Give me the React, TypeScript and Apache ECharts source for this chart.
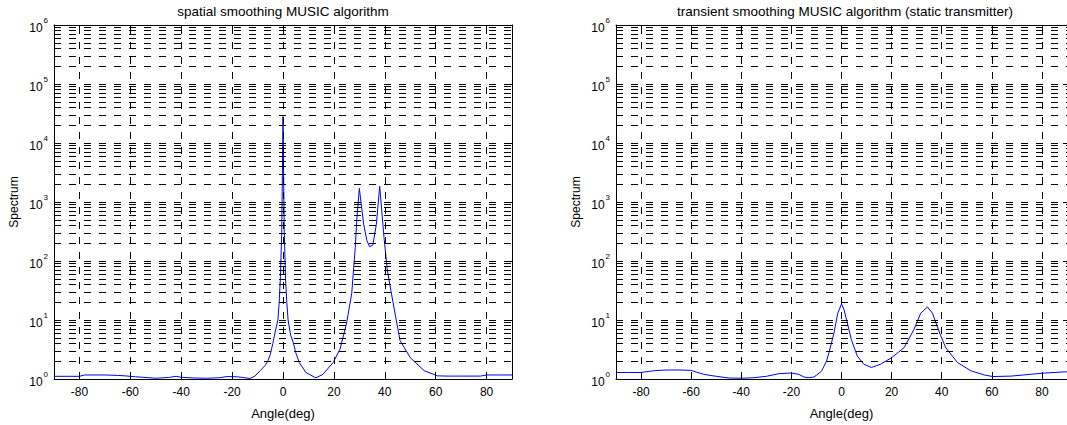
import React, { useEffect, useRef } from "react";
import * as echarts from "echarts";

const FONT = '"Liberation Sans", Arial, Helvetica, sans-serif';

const titles = [
  "spatial smoothing MUSIC algorithm",
  "transient smoothing MUSIC algorithm (static transmitter)",
];
const xAxisName = "Angle(deg)";
const yAxisName = "Spectrum";

const xTicks = [-80, -60, -40, -20, 0, 20, 40, 60, 80];
const decades = [1, 10, 100, 1000, 10000, 100000];
const minorMultipliers = [2, 3, 4, 5, 6, 7, 8, 9];

const angleSpatial = [
  -90, -85, -80, -78, -70, -65, -62, -58, -55, -50, -45, -42, -40, -35, -30, -25,
  -22, -18, -15, -13, -11, -9, -7, -6, -5, -4, -3, -2, -1.5, -1, -0.5, 0, 0.5, 1,
  1.5, 2, 3, 4, 5, 6.4, 9, 12.4, 13, 15.7, 19.7, 22.4, 25, 27, 28.4, 29, 30, 31.7,
  33, 34, 35.3, 36.7, 38, 39.7, 41, 42.5, 44.5, 46, 50, 55.5, 60.7, 65, 70, 77.6,
  80, 85, 90,
];
const spectrumSpatial = [
  1.11, 1.11, 1.11, 1.17, 1.17, 1.15, 1.13, 1.09, 1.07, 1.03, 1.06, 1.11, 1.07, 1.04,
  1.03, 1.05, 1.1, 1.09, 1.05, 1.02, 1.12, 1.38, 1.7, 2.0, 2.6, 4.0, 6.5, 10, 20, 55,
  300, 28000, 300, 50, 20, 10, 5.5, 4.2, 2.8, 1.9, 1.29, 1.07, 1.05, 1.2, 1.9, 3.2,
  8.9, 28, 170, 500, 1700, 420, 220, 175, 186, 420, 1850, 250, 70, 30, 10, 4.5, 2.3,
  1.38, 1.13, 1.12, 1.12, 1.12, 1.17, 1.17, 1.17,
];

const angleTransient = [
  -90, -85, -80, -75, -70, -65, -60, -58, -55, -50, -45, -40, -35, -30, -25, -20,
  -17, -15, -13, -11, -8, -6, -5, -3, -1.5, 0, 1, 2.3, 3.9, 6.3, 8.9, 12, 15.6, 20,
  25, 28.9, 31.6, 34.3, 36.3, 39.6, 41.6, 46.3, 51.6, 57, 60.4, 67.7, 74.4, 81, 89,
  90,
];
const spectrumTransient = [
  1.29, 1.29, 1.29, 1.38, 1.42, 1.42, 1.4, 1.31, 1.2, 1.11, 1.04, 1.03, 1.05, 1.11,
  1.23, 1.26, 1.2, 1.08, 1.05, 1.08, 1.35, 2.0, 2.8, 6.0, 13, 18.7, 15, 9, 4.7, 2.45,
  1.78, 1.57, 1.78, 2.3, 3.4, 6.9, 13, 16.6, 13, 5.4, 3.4, 1.9, 1.38, 1.17, 1.1,
  1.12, 1.19, 1.26, 1.32, 1.32,
];

const panels = [
  { title: titles[0], angles: angleSpatial, values: spectrumSpatial },
  { title: titles[1], angles: angleTransient, values: spectrumTransient },
];

function buildOption() {
  const gridLefts = [54, 616];
  const plotW = 458;
  const plotH = 358;
  const top = 25;
  const dash = { color: "#000", width: 1, type: [7, 8] as any };

  const hLines: number[] = [];
  decades.forEach((d, k) => {
    if (k > 0) hLines.push(d);
    minorMultipliers.forEach((m) => hLines.push(m * d));
  });

  const grid: any[] = [];
  const xAxis: any[] = [];
  const yAxis: any[] = [];
  const series: any[] = [];
  const graphic: any[] = [];

  panels.forEach((p, i) => {
    grid.push({ left: gridLefts[i], top, width: plotW, height: plotH, containLabel: false });
    graphic.push({
      type: "text",
      x: gridLefts[i] + plotW / 2,
      y: 11,
      silent: true,
      style: {
        text: p.title,
        fontFamily: FONT,
        fontSize: 13.5,
        fill: "#000",
        textAlign: "center",
        textVerticalAlign: "middle",
      },
    });
    const axisLine = { show: true, onZero: false, lineStyle: { color: "#000", width: 1 } };
    xAxis.push({
      type: "value",
      gridIndex: i,
      position: "bottom",
      min: -90,
      max: 90,
      name: xAxisName,
      nameLocation: "middle",
      nameGap: 28,
      nameTextStyle: { fontFamily: FONT, fontSize: 13, color: "#000" },
      axisLine,
      axisTick: { show: true, inside: true, length: 4, customValues: xTicks, lineStyle: { color: "#000" } },
      axisLabel: { show: true, customValues: xTicks, margin: 7, fontFamily: FONT, fontSize: 12, color: "#000" },
      splitLine: { show: false },
    });
    xAxis.push({
      type: "value",
      gridIndex: i,
      position: "top",
      min: -90,
      max: 90,
      axisLine,
      axisTick: { show: true, inside: true, length: 4, customValues: xTicks, lineStyle: { color: "#000" } },
      axisLabel: { show: false },
      splitLine: { show: false },
    });
    yAxis.push({
      type: "log",
      logBase: 10,
      gridIndex: i,
      position: "left",
      min: 1,
      max: 1000000,
      splitNumber: 6,
      name: yAxisName,
      nameLocation: "middle",
      nameGap: 34,
      nameTextStyle: { fontFamily: FONT, fontSize: 12, color: "#000" },
      axisLine,
      axisTick: { show: true, inside: true, length: 4, lineStyle: { color: "#000" } },
      axisLabel: {
        show: true,
        margin: 6,
        formatter: (v: number) => `{b|10}{e|${Math.round(Math.log10(v))}}`,
        rich: {
          b: { fontFamily: FONT, fontSize: 12, color: "#000", lineHeight: 17, verticalAlign: "bottom" },
          e: { fontFamily: FONT, fontSize: 8, color: "#000", lineHeight: 17, verticalAlign: "top", padding: [0, 0, 0, 1] },
        },
      },
      splitLine: { show: false },
    });
    yAxis.push({
      type: "log",
      logBase: 10,
      gridIndex: i,
      position: "right",
      min: 1,
      max: 1000000,
      splitNumber: 6,
      axisLine,
      axisTick: { show: true, inside: true, length: 4, lineStyle: { color: "#000" } },
      axisLabel: { show: false },
      splitLine: { show: false },
    });

    series.push({
      type: "line",
      xAxisIndex: 2 * i,
      yAxisIndex: 2 * i,
      data: [[-90, 1]],
      symbol: "none",
      lineStyle: { width: 0, opacity: 0 },
      silent: true,
      z: 1,
      markLine: {
        silent: true,
        symbol: ["none", "none"],
        label: { show: false },
        emphasis: { disabled: true },
        lineStyle: dash,
        data: [
          ...hLines.map((v) => ({ yAxis: v })),
          ...xTicks.map((v) => ({ xAxis: v })),
        ],
      },
    });
    series.push({
      type: "line",
      xAxisIndex: 2 * i,
      yAxisIndex: 2 * i,
      data: p.angles.map((a, j) => [a, p.values[j]]),
      symbol: "none",
      smooth: false,
      lineStyle: { color: "#0000ff", width: 1 },
      z: 3,
    });
  });

  return {
    animation: false,
    backgroundColor: "#fff",
    textStyle: { fontFamily: FONT },
    graphic,
    grid,
    xAxis,
    yAxis,
    series,
  };
}

export default function App() {
  const ref = useRef<HTMLDivElement>(null);
  useEffect(() => {
    document.body.style.margin = "0";
    if (!ref.current) return;
    const chart = echarts.init(ref.current, undefined, { renderer: "svg" });
    chart.setOption(buildOption() as any);
    return () => chart.dispose();
  }, []);
  return <div ref={ref} style={{ width: 1067, height: 425 }} />;
}
